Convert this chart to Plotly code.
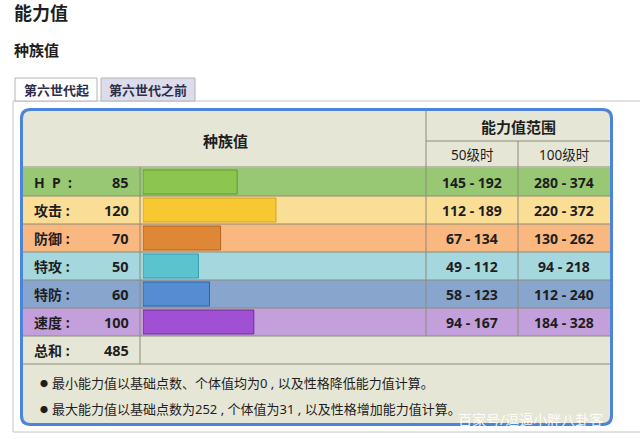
import plotly.graph_objects as go

# ---------------- data ----------------
stat_names = ["HP", "攻击", "防御", "特攻", "特防", "速度"]
stat_labels = ["H\u00a0\u00a0P\u00a0\u00a0:", "攻击\u00a0:", "防御\u00a0:", "特攻\u00a0:", "特防\u00a0:", "速度\u00a0:"]
base_stats = [85, 120, 70, 50, 60, 100]
total_label = "总和\u00a0:"
total_value = 485
range_lv50 = ["145 - 192", "112 - 189", "67 - 134", "49 - 112", "58 - 123", "94 - 167"]
range_lv100 = ["280 - 374", "220 - 372", "130 - 262", "94 - 218", "112 - 240", "184 - 328"]
max_stat = 255
notes = ["最小能力值以基础点数、个体值均为0 , 以及性格降低能力值计算。",
         "最大能力值以基础点数为252 , 个体值为31 , 以及性格增加能力值计算。"]
tabs = ["第六世代起", "第六世代之前"]

# ---------------- styles ----------------
row_colors = ["#98c873", "#fade96", "#f8b880", "#a5d7de", "#87a5cd", "#c3a0dc"]
bar_colors = ["#8cc64e", "#f7c832", "#de8737", "#5ac3cd", "#558cd2", "#a050d2"]
bar_edges = ["#5f9a34", "#d4a422", "#b0651f", "#3a9cae", "#2f62a8", "#6e2e9a"]
head_bg = "#e6e6d6"
sep = "rgba(140,140,120,0.5)"
FONT = "Noto Sans, Noto Sans CJK SC, sans-serif"
TXT = "#1e1e1e"

W, H = 640, 439
fig = go.Figure()

shapes = []
def rect(x0, y0, x1, y1, fill, line=None, lw=0, layer="below"):
    shapes.append(dict(type="rect", xref="x", yref="y", x0=x0, y0=y0, x1=x1, y1=y1,
                       fillcolor=fill, line=dict(color=line or fill, width=lw), layer=layer))
def hline(y, x0, x1, color=sep, w=2):
    shapes.append(dict(type="line", xref="x", yref="y", x0=x0, x1=x1, y0=y, y1=y,
                       line=dict(color=color, width=w), layer="below"))
def vline(x, y0, y1, color=sep, w=2):
    shapes.append(dict(type="line", xref="x", yref="y", x0=x, x1=x, y0=y0, y1=y1,
                       line=dict(color=color, width=w), layer="below"))
def rrect(x0, y0, x1, y1, r):
    return (f"M{x0+r},{y0} L{x1-r},{y0} Q{x1},{y0} {x1},{y0+r} L{x1},{y1-r} "
            f"Q{x1},{y1} {x1-r},{y1} L{x0+r},{y1} Q{x0},{y1} {x0},{y1-r} "
            f"L{x0},{y0+r} Q{x0},{y0} {x0+r},{y0} Z")

# outer gray frame
hline(101, 13, 640, "#c4c4c4", 1)
vline(13, 101, 432, "#c4c4c4", 1)
hline(432, 13, 640, "#c4c4c4", 1)
# tabs
rect(15, 78, 97, 101, "#ffffff", "#b4b4b4", 1)
rect(101, 78, 195, 101, "#dcdcec", "#b4b4b4", 1)

# blue rounded box
shapes.append(dict(type="path", xref="x", yref="y", path=rrect(21.5, 109.5, 611.5, 424.5, 9),
                   fillcolor=head_bg, line=dict(color="#4c84da", width=3), layer="below"))

# row backgrounds
ROW0, PITCH = 168, 28
for i, c in enumerate(row_colors):
    rect(23, ROW0 + i * PITCH, 610, ROW0 + (i + 1) * PITCH, c)

# separators
hline(141, 426, 610)
hline(167, 23, 610)
for k in range(1, 8):
    hline(ROW0 + k * PITCH, 23, 610)
vline(140, 167, 364)
vline(426, 111, 336)
vline(518, 141, 336)

# ---------------- bars through their own axes ----------------
fig.add_trace(go.Bar(
    x=base_stats, y=stat_names, orientation="h",
    marker=dict(color=bar_colors, line=dict(color=bar_edges, width=1)),
    xaxis="x2", yaxis="y2", hoverinfo="skip", showlegend=False))

# ---------------- text ----------------
ann = []
def text(x, y, s, size, xanchor="center", color=TXT, bold=True, opacity=1):
    ann.append(dict(x=x, y=y, xref="x", yref="y", text=(f"<b>{s}</b>" if bold else s),
                    showarrow=False, xanchor=xanchor, yanchor="middle",
                    font=dict(family=FONT, size=size, color=color), opacity=opacity))

text(12, 13, "能力值", 18, "left")
text(12, 50, "种族值", 15, "left")
text(56, 90, tabs[0], 13, "center", "#2e2e48")
text(148, 90, tabs[1], 13, "center", "#2e2e48")

text(225, 141, "种族值", 15)
text(518, 127, "能力值范围", 15)
text(472, 155, "50级时", 13.5, bold=False)
text(564, 155, "100级时", 13.5, bold=False)

for i in range(len(stat_names)):
    yc = ROW0 + i * PITCH + PITCH / 2
    text(32, yc, stat_labels[i], 14, "left")
    text(131, yc, str(base_stats[i]), 14.5, "right")
    text(472, yc, range_lv50[i], 14)
    text(564, yc, range_lv100[i], 14)
yc = ROW0 + 6 * PITCH + PITCH / 2
text(32, yc, total_label, 14, "left")
text(131, yc, str(total_value), 14.5, "right")

for j, n in enumerate(notes):
    yy = 383 + j * 26
    text(38, yy, "●", 8, "left", bold=False)
    text(50, yy, n, 13, "left", bold=False)

text(530, 419, "百家号/逗逼小胖八卦客", 14, "center", "#ffffff", bold=False, opacity=0.9)

fig.update_layout(
    width=W, height=H, margin=dict(l=0, r=0, t=0, b=0),
    paper_bgcolor="#ffffff", plot_bgcolor="rgba(0,0,0,0)",
    xaxis=dict(range=[0, W], visible=False, fixedrange=True, domain=[0, 1]),
    yaxis=dict(range=[H, 0], visible=False, fixedrange=True, domain=[0, 1]),
    xaxis2=dict(range=[0, max_stat], visible=False, fixedrange=True, anchor="y2",
                domain=[143 / W, (143 + 282.6) / W]),
    yaxis2=dict(type="category", categoryorder="array", categoryarray=stat_names,
                autorange="reversed", visible=False, fixedrange=True, anchor="x2",
                domain=[1 - (ROW0 + 6 * PITCH) / H, 1 - ROW0 / H]),
    bargap=4 / 28,
    shapes=shapes, annotations=ann, showlegend=False,
)

fig.write_html("out.html", config={"displayModeBar": False},
               post_script="document.body.style.margin='0px';document.body.style.overflow='hidden';")
